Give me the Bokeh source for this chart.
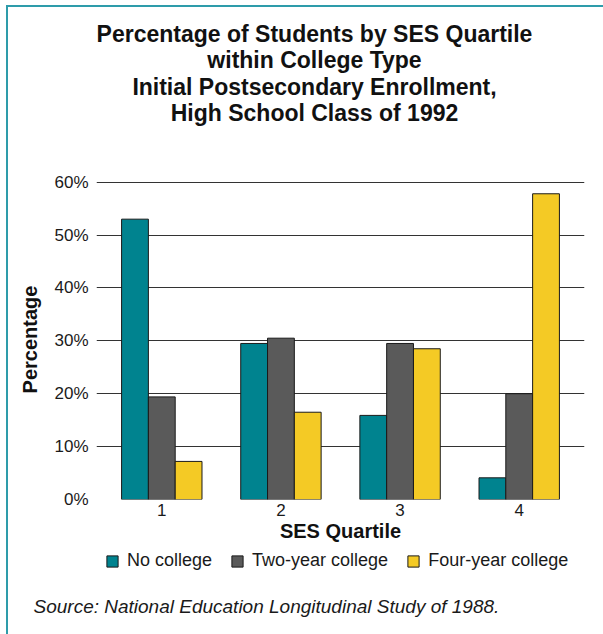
from bokeh.plotting import figure
from bokeh.layouts import column
from bokeh.models import (ColumnDataSource, FactorRange, Legend, LegendItem, Label,
                          PrintfTickFormatter, FixedTicker)
from bokeh.transform import dodge
from bokeh.embed import file_html
from bokeh.resources import INLINE

# ---- data ----
quartiles = ["1", "2", "3", "4"]
no_college = [53.0, 29.5, 15.9, 4.1]
two_year_college = [19.4, 30.5, 29.5, 20.0]
four_year_college = [7.2, 16.5, 28.5, 57.8]
series_names = ["No college", "Two-year college", "Four-year college"]
series_colors = ["#00838F", "#5A5A5A", "#F4CA25"]
y_ticks = [0, 10, 20, 30, 40, 50, 60]
title_lines = ["Percentage of Students by SES Quartile",
               "within College Type",
               "Initial Postsecondary Enrollment,",
               "High School Class of 1992"]
source_note = "Source: National Education Longitudinal Study of 1988."

src = ColumnDataSource(dict(q=quartiles, nc=no_college, ty=two_year_college, fy=four_year_college))

FONT = "Liberation Sans"
W = 595


def blank(height):
    f = figure(width=W, height=height, title=None, x_range=(0, 1), y_range=(0, 1),
               x_axis_type=None, y_axis_type=None, min_border=0,
               output_backend="svg", toolbar_location=None)
    f.frame_align = False
    f.grid.visible = False
    f.outline_line_color = None
    f.background_fill_color = "white"
    f.border_fill_color = "white"
    return f


# ---------- title block ----------
p_top = blank(133)
for i, line in enumerate(title_lines):
    p_top.add_layout(Label(text=line, x=306, y=107 - 26.5 * i, x_units="screen", y_units="screen",
                           text_align="center", text_baseline="middle",
                           text_font=FONT, text_font_style="bold", text_font_size="23px",
                           text_color="#111111"))

# ---------- main chart ----------
p = figure(width=W, height=408, title=None,
           x_range=FactorRange(*quartiles, range_padding=0.024),
           y_range=(0, 60.5),
           output_backend="svg", toolbar_location=None,
           min_border_left=88, min_border_right=19,
           min_border_top=39, min_border_bottom=49)
p.frame_align = False

p.outline_line_color = None
p.background_fill_color = "white"
p.border_fill_color = "white"

p.xgrid.grid_line_color = None
p.ygrid.grid_line_color = "#333333"
p.ygrid.grid_line_width = 1.2
p.ygrid.ticker = FixedTicker(ticks=y_ticks)

p.yaxis.ticker = FixedTicker(ticks=y_ticks)
p.yaxis.formatter = PrintfTickFormatter(format="%d%%")
p.yaxis.axis_line_color = None
p.yaxis.major_tick_line_color = None
p.yaxis.minor_tick_line_color = None
p.yaxis.major_tick_out = 0
p.yaxis.major_label_standoff = 8
p.yaxis.major_label_text_font = FONT
p.yaxis.major_label_text_font_size = "17px"
p.yaxis.major_label_text_color = "#1a1a1a"
p.yaxis.axis_label = "Percentage"
p.yaxis.axis_label_text_font = FONT
p.yaxis.axis_label_text_font_style = "bold"
p.yaxis.axis_label_text_font_size = "20px"
p.yaxis.axis_label_text_color = "#111111"
p.yaxis.axis_label_standoff = 10

p.xaxis.axis_line_color = None
p.xaxis.major_tick_line_color = None
p.xaxis.major_tick_out = 0
p.xaxis.major_label_standoff = 4
p.xaxis.major_label_text_font = FONT
p.xaxis.major_label_text_font_size = "17px"
p.xaxis.major_label_text_color = "#1a1a1a"
p.xaxis.axis_label = "SES Quartile"
p.xaxis.axis_label_text_font = FONT
p.xaxis.axis_label_text_font_style = "bold"
p.xaxis.axis_label_text_font_size = "20px"
p.xaxis.axis_label_text_color = "#111111"
p.xaxis.axis_label_standoff = 1

w = 0.225
cols = ["nc", "ty", "fy"]
offsets = [-w, 0, w]
for col, off, color in zip(cols, offsets, series_colors):
    p.vbar(x=dodge("q", off, range=p.x_range), top=col, width=w, source=src,
           fill_color=color, line_color="#1A1A1A", line_width=1)

# ---------- legend + source block ----------
p_bot = blank(86)
proxy_src = ColumnDataSource(dict(x=[0.0], top=[0.0]))
proxies = []
for color in series_colors:
    r = p_bot.vbar(x="x", top="top", width=0.0, source=proxy_src, fill_color=color,
                   line_color="#1A1A1A", line_width=1)
    r.visible = False
    proxies.append(r)
legend = Legend(items=[LegendItem(label=n, renderers=[r]) for n, r in zip(series_names, proxies)],
                orientation="horizontal", location=(97, 63), click_policy="none",
                label_text_font=FONT, label_text_font_size="18px", label_text_color="#1a1a1a",
                glyph_width=14, glyph_height=14, spacing=18, label_standoff=8,
                border_line_color=None, background_fill_alpha=0, padding=0, margin=0)
p_bot.add_layout(legend)
p_bot.add_layout(Label(text=source_note, x=25, y=28, x_units="screen", y_units="screen",
                       text_align="left", text_baseline="middle",
                       text_font=FONT, text_font_style="italic", text_font_size="19px",
                       text_color="#1a1a1a"))

layout = column(p_top, p, p_bot, spacing=0)
layout.margin = (5, 0, 0, 6)
layout.styles = {"border-top": "2px solid #2E9CAA", "border-left": "2px solid #2E9CAA"}

open("out.html", "w").write(file_html(layout, INLINE))
